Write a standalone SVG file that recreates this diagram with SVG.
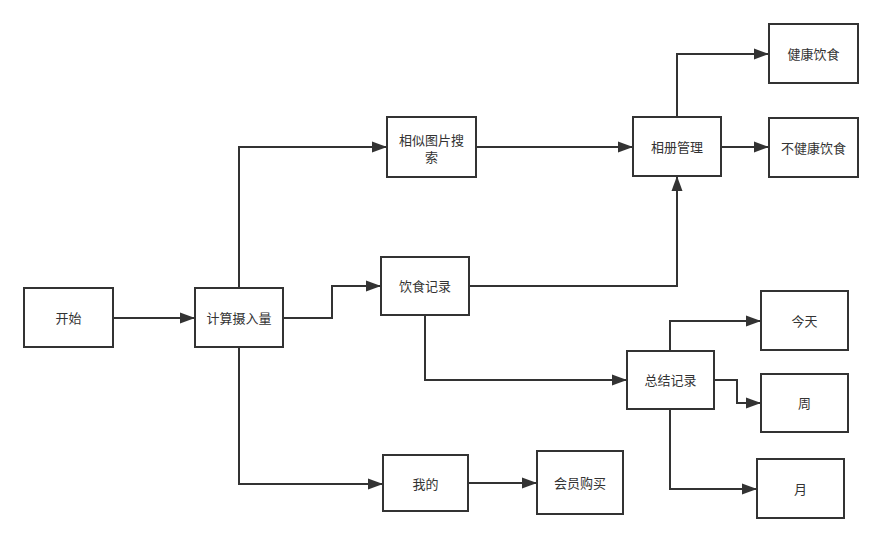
<svg xmlns="http://www.w3.org/2000/svg" width="881" height="542" viewBox="0 0 881 542">
<style>
.n{fill:#fff;stroke:#333;stroke-width:2}
.t{font-family:"Liberation Sans","Noto Sans CJK SC",sans-serif;font-size:13px;fill:#333;text-anchor:middle;dominant-baseline:central}
.c{fill:none;stroke:#333;stroke-width:2;marker-end:url(#a)}
</style>
<defs>
<marker id="a" markerUnits="userSpaceOnUse" markerWidth="16" markerHeight="12" refX="15" refY="6" orient="auto">
<path d="M0,0.5 L15,6 L0,11.5 Z" fill="#333"/>
</marker>
</defs>
<rect width="881" height="542" fill="#fff"/>
<g id="connectors">
<path class="c" d="M113,318 L195,318"/>
<path class="c" d="M239,288 L239,147 L387,147"/>
<path class="c" d="M283,318 L332,318 L332,286 L381,286"/>
<path class="c" d="M239,347 L239,484 L383,484"/>
<path class="c" d="M476,147 L633,147"/>
<path class="c" d="M677,117 L677,54 L769,54"/>
<path class="c" d="M721,147 L769,147"/>
<path class="c" d="M469,286 L677,286 L677,176"/>
<path class="c" d="M425,315 L425,380 L627,380"/>
<path class="c" d="M468,483 L537,483"/>
<path class="c" d="M670,351 L670,321 L761,321"/>
<path class="c" d="M714,380 L737,380 L737,403 L761,403"/>
<path class="c" d="M670,409 L670,489 L757,489"/>
</g>
<g id="start"><rect class="n" x="24" y="288" width="89" height="59"/><text class="t" x="68.5" y="318">开始</text></g>
<g id="calc"><rect class="n" x="195" y="288" width="88" height="59"/><text class="t" x="239" y="318">计算摄入量</text></g>
<g id="search"><rect class="n" x="387" y="117" width="89" height="60"/><text class="t" x="431.5" y="140">相似图片搜</text><text class="t" x="431.5" y="157">索</text></g>
<g id="album"><rect class="n" x="633" y="117" width="88" height="59"/><text class="t" x="677" y="147">相册管理</text></g>
<g id="healthy"><rect class="n" x="769" y="24" width="89" height="59"/><text class="t" x="813.5" y="54">健康饮食</text></g>
<g id="unhealthy"><rect class="n" x="769" y="118" width="89" height="59"/><text class="t" x="813.5" y="148">不健康饮食</text></g>
<g id="diet"><rect class="n" x="381" y="257" width="88" height="58"/><text class="t" x="425" y="286">饮食记录</text></g>
<g id="summary"><rect class="n" x="627" y="351" width="87" height="58"/><text class="t" x="670.5" y="380">总结记录</text></g>
<g id="today"><rect class="n" x="761" y="291" width="87" height="59"/><text class="t" x="804.5" y="321">今天</text></g>
<g id="week"><rect class="n" x="761" y="374" width="87" height="58"/><text class="t" x="804.5" y="403">周</text></g>
<g id="month"><rect class="n" x="757" y="459" width="87" height="59"/><text class="t" x="800.5" y="489">月</text></g>
<g id="mine"><rect class="n" x="383" y="455" width="85" height="56"/><text class="t" x="425.5" y="484">我的</text></g>
<g id="vip"><rect class="n" x="537" y="451" width="86" height="63"/><text class="t" x="580" y="483">会员购买</text></g>
</svg>
